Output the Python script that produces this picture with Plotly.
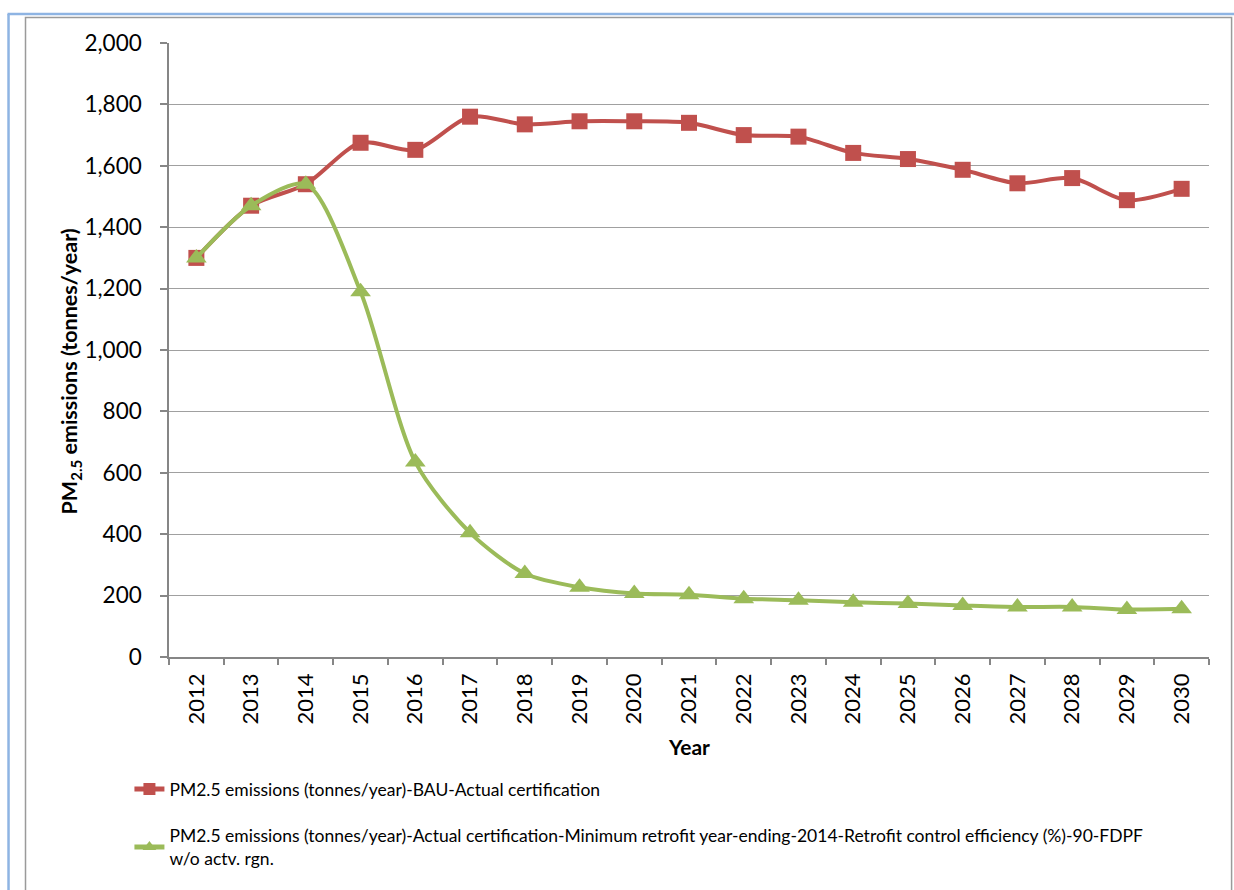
import plotly.graph_objects as go

# Years on the category axis
years = [str(y) for y in range(2012, 2031)]

# PM2.5 emissions (tonnes/year), business as usual
bau = [1300, 1470, 1540, 1675, 1652, 1760, 1735, 1745, 1745, 1740,
       1700, 1695, 1642, 1622, 1587, 1543, 1560, 1488, 1525]

# PM2.5 emissions (tonnes/year), retrofit scenario
retrofit = [1300, 1470, 1540, 1190, 635, 405, 272, 227, 207, 203,
            190, 185, 178, 174, 168, 163, 163, 155, 157]

bau_name = "PM2.5 emissions (tonnes/year)-BAU-Actual certification"
retro_name = ("PM2.5 emissions (tonnes/year)-Actual certification-Minimum retrofit "
              "year-ending-2014-Retrofit control efficiency (%)-90-FDPF<br>w/o actv. rgn.")

RED = "#C0504D"
GREEN = "#9BBB59"
FONT = "Lato"

W, H = 1234, 890
L, R, T, B = 168.6, 1209.4, 43, 657  # plot area in pixels


def px(x):
    return (x - L) / (R - L)


def py(y):
    return (B - y) / (B - T)


fig = go.Figure()
fig.add_trace(go.Scatter(
    x=years, y=bau, name=bau_name, mode="lines+markers",
    line=dict(color=RED, width=4, shape="spline", smoothing=0.8),
    marker=dict(symbol="square", size=16, color=RED),
    legendgroup="a",
))
fig.add_trace(go.Scatter(
    x=years, y=retrofit, name=retro_name, mode="lines+markers",
    line=dict(color=GREEN, width=4, shape="spline", smoothing=0.8),
    marker=dict(symbol="triangle-up", size=18, color=GREEN),
    legendgroup="b",
))

grid = "#A0A0A0"
fig.update_layout(
    width=W, height=H,
    margin=dict(l=L, r=W - R, t=T, b=H - B),
    paper_bgcolor="white", plot_bgcolor="white",
    font=dict(family=FONT, color="black"),
    showlegend=True,
    legend=dict(
        x=px(129), y=py(771), xanchor="left", yanchor="top",
        font=dict(family=FONT, size=17.5, color="black"),
        traceorder="grouped", tracegroupgap=21,
        itemsizing="constant", itemwidth=30, bgcolor="rgba(0,0,0,0)",
    ),
    xaxis=dict(
        type="category", tickson="boundaries", range=[-0.5, len(years) - 0.5],
        ticks="outside", ticklen=6, tickcolor="#868686", tickwidth=1.5,
        showline=True, linecolor="#868686", linewidth=1.5,
        showgrid=False, tickangle=-90,
        tickfont=dict(family=FONT, size=22, color="black"),
        ticklabelstandoff=6,
    ),
    yaxis=dict(
        range=[0, 2000], dtick=200, tickformat=",",
        ticks="outside", ticklen=7, tickcolor="#868686", tickwidth=1.5,
        showline=True, linecolor="#868686", linewidth=1.5,
        showgrid=True, gridcolor=grid, gridwidth=1.3,
        zeroline=False,
        tickfont=dict(family=FONT, size=22.5, color="black"),
        ticklabelstandoff=14,
    ),
    annotations=[
        dict(text="<b>PM<sub>2.5</sub> emissions (tonnes/year)</b>",
             x=px(70), y=py(371), xref="paper", yref="paper",
             xanchor="center", yanchor="middle",
             textangle=-90, showarrow=False,
             font=dict(family=FONT, size=21.5, color="black")),
        dict(text="<b>Year</b>", x=px(689), y=py(746), xref="paper", yref="paper",
             xanchor="center", yanchor="middle",
             showarrow=False, font=dict(family=FONT, size=21, color="black")),
    ],
    shapes=[
        # outer blue frame
        dict(type="line", xref="paper", yref="paper",
             x0=px(8), x1=px(8), y0=py(14), y1=py(900),
             line=dict(color="#8EB4E3", width=2.5)),
        dict(type="line", xref="paper", yref="paper",
             x0=px(7), x1=px(1240), y0=py(14), y1=py(14),
             line=dict(color="#8EB4E3", width=2.5)),
        # inner gray frame
        dict(type="rect", xref="paper", yref="paper",
             x0=px(25), x1=px(1232), y0=py(17.5), y1=py(900),
             line=dict(color="#9A9A9A", width=1.5)),
    ],
)

fig.write_html("out.html")
